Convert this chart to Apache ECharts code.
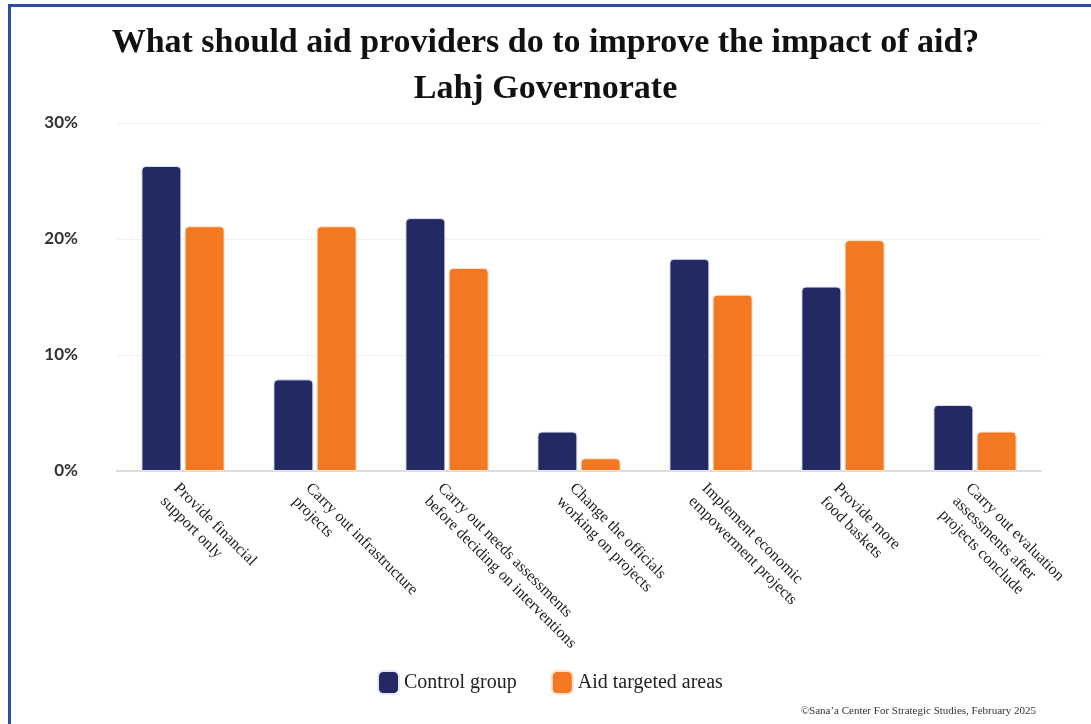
<!DOCTYPE html>
<html>
<head>
<meta charset="utf-8">
<script src="https://cdn.jsdelivr.net/npm/echarts@6/dist/echarts.min.js"></script>
<style>
  html, body { margin: 0; padding: 0; background: #fff; }
  #frame { position: absolute; left: 8px; top: 4px; width: 1083px; height: 720px;
           border-top: 3px solid #2d4d9f; border-left: 3px solid #2d4d9f; box-sizing: border-box; }
  #chart { position: absolute; left: 0; top: 0; width: 1091px; height: 724px; }
</style>
</head>
<body>
<div id="frame"></div>
<div id="chart"></div>
<script>
const categories = [
  "Provide financial\nsupport only",
  "Carry out infrastructure\nprojects",
  "Carry out needs assessments\nbefore deciding on interventions",
  "Change the officials\nworking on projects",
  "Implement economic\nempowerment projects",
  "Provide more\nfood baskets",
  "Carry out evaluation\nassessments after\nprojects conclude"
];
const controlGroup = [26.3, 7.9, 21.8, 3.4, 18.3, 15.9, 5.7];
const aidTargeted = [21.1, 21.1, 17.5, 1.1, 15.2, 19.9, 3.4];
const yTicks = [0, 10, 20, 30];

const chart = echarts.init(document.getElementById('chart'), null, { renderer: 'canvas' });
chart.setOption({
  animation: false,
  backgroundColor: 'transparent',
  title: [
    { text: 'What should aid providers do to improve the impact of aid?\nLahj Governorate',
      left: 'center', top: 15,
      textStyle: { fontFamily: 'Liberation Serif', fontWeight: 'bold', fontSize: 34, color: '#111', lineHeight: 46 } },
    { text: '©Sana\u2019a Center For Strategic Studies, February 2025',
      right: 50, top: 701,
      textStyle: { fontFamily: 'Liberation Serif', fontWeight: 'normal', fontSize: 11, color: '#333' } }
  ],
  legend: {
    data: ['Control group', 'Aid targeted areas'],
    left: 372, top: 665,
    itemWidth: 21, itemHeight: 23, itemGap: 34,
    icon: 'roundRect',
    textStyle: { fontFamily: 'Liberation Serif', fontSize: 20, color: '#222' }
  },
  grid: { left: 117, right: 50, top: 123, bottom: 253, containLabel: false },
  xAxis: {
    type: 'category',
    data: categories,
    axisLine: { lineStyle: { color: '#dcdcdc', width: 2 } },
    axisTick: { show: false },
    axisLabel: {
      rotate: -45, interval: 0, margin: 8, verticalAlign: 'top', align: 'left',
      fontFamily: 'Liberation Serif', fontSize: 16, color: '#222', lineHeight: 19
    }
  },
  yAxis: {
    type: 'value', min: 0, max: 30, interval: 10,
    axisLine: { show: false }, axisTick: { show: false },
    splitLine: { lineStyle: { color: '#f0f0f0', width: 1 } },
    axisLabel: {
      margin: 39, fontFamily: 'Lato', fontWeight: 'bold', fontSize: 17, color: '#333',
      formatter: v => yTicks.includes(v) ? v + '%' : ''
    }
  },
  series: [
    { name: 'Control group', type: 'bar', data: controlGroup, barWidth: 40, barGap: '8%',
      itemStyle: { color: '#232a63', borderRadius: [4, 4, 0, 0], borderColor: '#e6e8f2', borderWidth: 1 } },
    { name: 'Aid targeted areas', type: 'bar', data: aidTargeted, barWidth: 40,
      itemStyle: { color: '#f47821', borderRadius: [4, 4, 0, 0], borderColor: '#fbe3d2', borderWidth: 1 } }
  ]
});
</script>
</body>
</html>
